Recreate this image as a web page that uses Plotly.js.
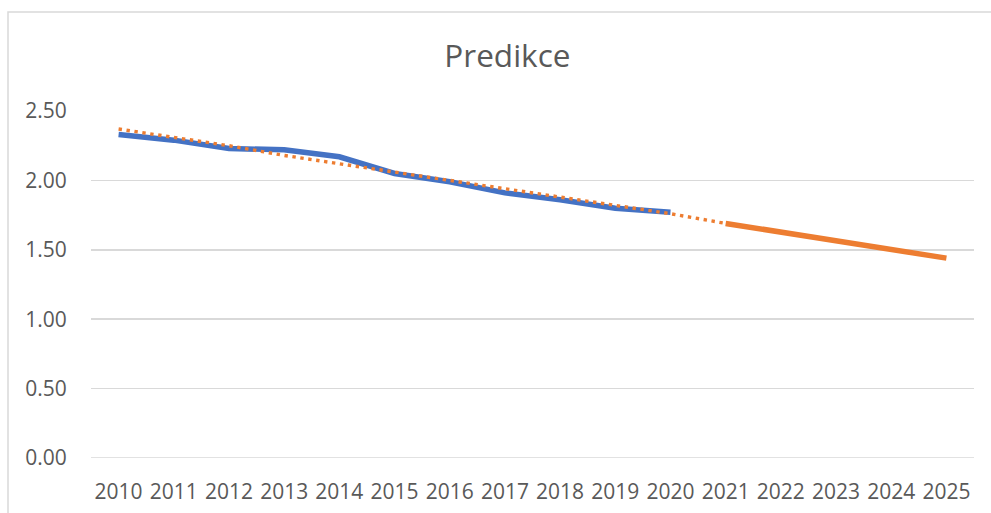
<!DOCTYPE html>
<html>
<head>
<meta charset="utf-8">
<script src="https://cdn.plot.ly/plotly-3.0.1.min.js"></script>
<style>
  html, body { margin: 0; padding: 0; background: #ffffff; }
  #chart { width: 991px; height: 513px; }
</style>
</head>
<body>
<div id="chart"></div>
<script>
// Categories (years)
const years = ['2010','2011','2012','2013','2014','2015','2016','2017','2018','2019','2020','2021','2022','2023','2024','2025'];

// Actual values 2010-2020
const actualYears = ['2010','2011','2012','2013','2014','2015','2016','2017','2018','2019','2020'];
const actualValues = [2.33, 2.29, 2.23, 2.22, 2.17, 2.05, 1.99, 1.91, 1.86, 1.80, 1.77];

// Linear trend 2010-2021 (dotted)
const trendYears = ['2010','2011','2012','2013','2014','2015','2016','2017','2018','2019','2020','2021'];
const trendValues = [2.37, 2.31, 2.25, 2.18, 2.12, 2.06, 2.00, 1.94, 1.88, 1.82, 1.76, 1.69];

// Forecast 2021-2025
const forecastYears = ['2021','2022','2023','2024','2025'];
const forecastValues = [1.69, 1.63, 1.565, 1.50, 1.44];

const yTicks = [0, 0.5, 1, 1.5, 2, 2.5];
const yTickLabels = ['0.00','0.50','1.00','1.50','2.00','2.50'];

const blue = '#4472C4';
const orange = '#ED7D31';
const textGray = '#595959';

const data = [
  {
    x: actualYears, y: actualValues, type: 'scatter', mode: 'lines',
    line: { color: blue, width: 5.5 }, hoverinfo: 'skip', showlegend: false
  },
  {
    x: trendYears, y: trendValues, type: 'scatter', mode: 'lines',
    line: { color: orange, width: 3.4, dash: '3.4px,4.6px' }, hoverinfo: 'skip', showlegend: false
  },
  {
    x: forecastYears, y: forecastValues, type: 'scatter', mode: 'lines',
    line: { color: orange, width: 5.5 }, hoverinfo: 'skip', showlegend: false
  }
];

const layout = {
  width: 991, height: 513,
  margin: { l: 91, r: 17, t: 111, b: 55, pad: 0 },
  paper_bgcolor: '#ffffff', plot_bgcolor: '#ffffff',
  font: { family: '"Open Sans", sans-serif', color: textGray, size: 21 },
  title: {
    text: 'Predikce',
    font: { family: '"Open Sans", sans-serif', size: 31.5, color: textGray },
    x: 0.512, xanchor: 'center', y: 0.89, yanchor: 'middle'
  },
  xaxis: {
    type: 'category', categoryorder: 'array', categoryarray: years,
    tickvals: years, ticktext: years,
    showgrid: false, zeroline: false, showline: false,
    ticks: 'outside', ticklen: 15, tickcolor: 'rgba(0,0,0,0)',
    tickfont: { size: 21, color: textGray },
    range: [-0.5, years.length - 0.5], fixedrange: true
  },
  yaxis: {
    range: [0, 2.5], tickvals: yTicks, ticktext: yTickLabels,
    showgrid: true, gridcolor: '#d9d9d9', gridwidth: 1.5,
    zeroline: false, showline: false,
    ticks: 'outside', ticklen: 19, tickcolor: 'rgba(0,0,0,0)',
    tickfont: { size: 21, color: textGray }, fixedrange: true
  },
  shapes: [
    {
      type: 'rect', xref: 'paper', yref: 'paper',
      x0: -0.094, x1: 1.2, y0: -0.3, y1: 1.285,
      line: { color: '#d9d9d9', width: 1.5 }, fillcolor: 'rgba(0,0,0,0)', layer: 'below'
    },
    {
      type: 'line', xref: 'paper', yref: 'y',
      x0: 0, x1: 1, y0: 0, y1: 0,
      line: { color: '#d9d9d9', width: 1.5 }, layer: 'below'
    }
  ]
};

Plotly.newPlot('chart', data, layout, { displayModeBar: false, staticPlot: true });
</script>
</body>
</html>
